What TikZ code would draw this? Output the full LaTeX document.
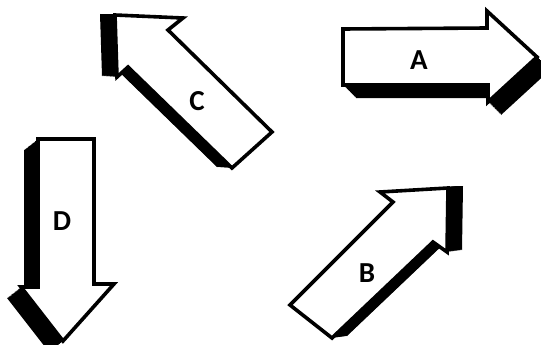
\documentclass[tikz,border=0pt]{standalone}
\usepackage{fontspec}
\setmainfont{Carlito}
\begin{document}
\begin{tikzpicture}[x=1pt,y=-1pt,
  face/.style={fill=white,draw=black,line width=3.6pt,line join=miter},
  letter/.style={font=\bfseries\fontsize{29}{29}\selectfont}]
\useasboundingbox (0,0) rectangle (541,345);
\clip (0,0) rectangle (541,345);
% outlines of the four arrows
\def\arrA{(343,29) -- (487,28) -- (487,11) -- (537,57) -- (488,102) -- (488,85) -- (343,85) -- cycle}
\def\arrB{(290,305) -- (393,202) -- (380,192) -- (448,188) -- (447,252) -- (433,242) -- (332,338) -- cycle}
\def\arrC{(115,15) -- (183,18) -- (168,30) -- (272,132) -- (232,168) -- (128,67) -- (117,77) -- cycle}
\def\arrD{(38,139) -- (94,139) -- (94,284) -- (114,284) -- (63,341) -- (21,287) -- (38,287) -- cycle}
\foreach \arr/\vx/\vy in {\arrA/13/13,\arrB/15/-2,\arrC/-15/-1,\arrD/-14/11}{
  % black depth
  \foreach \n in {0,1,...,20}
    \fill[black,shift={(\n*\vx/20,\n*\vy/20)}] \arr;
  \draw[face] \arr;
}
\node[letter] (a) at (419,60) {A};
\node[letter] (b) at (367,273) {B};
\node[letter] (c) at (197,101) {C};
\node[letter] (d) at (62,221) {D};
\end{tikzpicture}
\end{document}
